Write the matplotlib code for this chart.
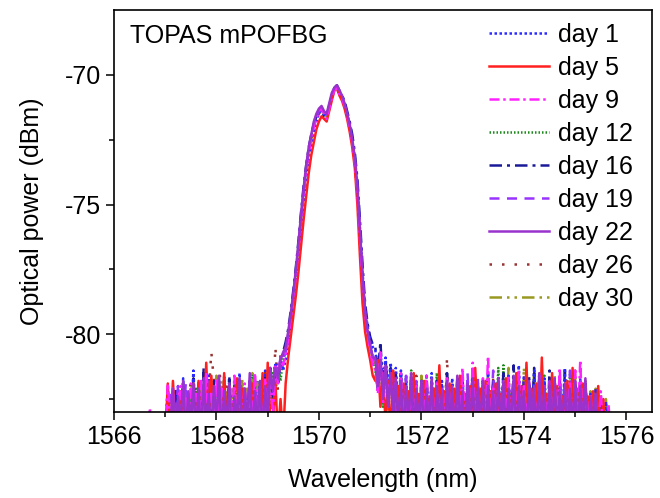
import numpy as np
import matplotlib
matplotlib.use("Agg")
import matplotlib.pyplot as plt

plt.rcParams['font.family'] = ['Liberation Sans', 'DejaVu Sans']
plt.rcParams['axes.unicode_minus'] = False

# common wavelength grid (nm), 0.05 nm sampling from 1566.60 to 1575.70
wavelength = np.round(np.arange(1566.60, 1575.701, 0.05), 2)

day1 = [
 -84,-84,-84,-84,-84,-84,-84,-84,-83.6,-82.1,
 -83.8,-82.4,-84,-82.0,-83.5,-81.7,-83.7,-82.3,-83.4,-81.4,
 -83.6,-81.9,-83.2,-82.2,-84,-81.6,-83.5,-82.1,-83.1,-81.8,
 -83.8,-82.0,-83.3,-82.4,-84,-81.9,-83.6,-81.5,-83.5,-82.1,
 -83.9,-82.3,-83.4,-82.0,-83.7,-81.8,-83.2,-81.4,-83.0,-81.5,
 -82.3,-81.1,-81.9,-80.9,-81.4,
 -81.0,-80.4,-79.6,-78.9,-78.0,-77.0,-75.9,-74.9,-74.0,-73.2,-72.7,-72.2,-71.8,-71.5,-71.3,-71.5,-71.6,-71.2,
 -70.8,-70.5,-70.45,-70.7,-70.8,-71.1,-71.5,-71.9,-72.5,-73.2,-74.2,-75.9,-77.6,-79.0,-79.7,-80.2,-80.5,
 -80.6,-81.6,-80.7,-81.8,-80.9,-82.1,-81.1,-82.4,-81.3,-82.7,
 -81.4,-83.2,-81.6,-83.5,-81.7,-83.4,-81.9,-84,-81.8,-83.6,
 -81.9,-83.8,-81.5,-83.3,-82.0,-84,-81.8,-83.5,-82.1,-83.7,
 -81.7,-83.4,-82.2,-84,-81.6,-83.6,-81.9,-83.2,-81.3,-83.5,
 -82.0,-83.9,-81.8,-83.4,-81.5,-83.7,-82.1,-84,-81.7,-83.3,
 -81.9,-83.8,-81.6,-83.5,-81.8,-83.9,-81.2,-83.4,-81.6,-83.6,
 -82.1,-84,-81.4,-83.3,-81.9,-83.7,-81.7,-83.5,-82.2,-84,
 -81.8,-83.6,-82.0,-83.2,-81.3,-83.8,-81.9,-83.5,-82.1,-84,
 -81.7,-83.7,-82.0,-83.4,-82.3,-84,-82.1,-83.6,-82.4,-84,-82.6,-84,-84]

day5 = [
 -84,-84,-84,-84,-84,-84,-84,-84,-84,-81.9,
 -84,-81.8,-83.5,-84,-82.2,-83.8,-84,-82.4,-83.6,-81.9,
 -83.9,-81.8,-83.7,-84,-81.1,-83.4,-81.6,-84,-83.3,-82.0,
 -84,-81.5,-83.6,-82.0,-84,-82.3,-81.7,-84,-82.1,-83.7,
 -84,-83.1,-81.9,-84,-82.4,-83.6,-81.5,-84,-81.1,-83.2,
 -83.4,-81.8,-84,-82.5,-84,
 -81.9,-80.9,-80.1,-79.3,-78.5,-77.6,-76.6,-75.6,-74.7,-73.8,-73.1,-72.6,-72.1,-71.8,-71.6,-71.7,-71.8,-71.4,
 -71.0,-70.6,-70.5,-70.8,-71.0,-71.3,-71.7,-72.2,-72.8,-73.6,-75.0,-77.0,-78.8,-79.9,-80.5,-81.0,-81.6,
 -81.8,-81.0,-82.8,-81.5,-83.4,-81.8,-84,-81.4,-83.5,-82.0,
 -84,-81.9,-83.6,-82.2,-84,-81.5,-83.4,-82.3,-84,-81.8,
 -83.7,-82.4,-84,-82.1,-83.5,-81.2,-84,-82.2,-83.3,-81.9,
 -84,-82.1,-83.6,-81.6,-84,-82.3,-83.4,-82.0,-84,-81.3,
 -83.5,-82.1,-84,-81.8,-83.8,-82.2,-84,-81.9,-83.5,-82.3,
 -84,-81.7,-83.6,-82.4,-84,-81.5,-83.4,-82.0,-84,-81.1,
 -84,-82.1,-83.5,-81.9,-84,-80.9,-83.7,-82.3,-84,-81.5,
 -83.6,-82.0,-84,-82.4,-83.4,-81.8,-84,-81.3,-83.5,-82.1,
 -84,-81.9,-83.7,-82.4,-84,-82.2,-83.5,-82.0,-84,-82.5,-84,-84,-84]

day9 = [
 -84,-84,-82.85,-84,-84,-84,-84,-83.5,-84,-81.9,
 -83.6,-82.1,-84,-82.7,-82.0,-83.8,-82.4,-84,-81.9,-83.5,
 -82.3,-84,-81.8,-83.4,-81.5,-84,-82.2,-83.6,-81.7,-83.9,
 -82.1,-83.3,-84,-82.0,-83.7,-81.6,-84,-82.4,-83.5,-81.9,
 -84,-82.2,-83.4,-81.5,-83.8,-82.1,-84,-81.7,-83.5,-81.4,
 -83.2,-81.2,-81.9,-80.9,-81.2,
 -80.8,-80.2,-79.4,-78.6,-77.7,-76.7,-75.6,-74.6,-73.7,-73.0,-72.5,-72.0,-71.7,-71.4,-71.3,-71.5,-71.7,-71.3,
 -70.9,-70.6,-70.5,-70.75,-70.9,-71.2,-71.6,-72.0,-72.6,-73.4,-74.5,-76.3,-77.9,-79.2,-80.0,-80.6,-81.2,
 -81.3,-82.3,-80.7,-82.7,-81.4,-82.5,-81.5,-83.4,-81.8,-84,
 -81.5,-83.5,-82.1,-84,-81.8,-83.7,-82.0,-84,-82.3,-83.4,
 -81.6,-84,-82.2,-83.6,-81.9,-84,-82.4,-83.3,-81.7,-84,
 -82.0,-83.7,-81.8,-84,-81.3,-83.5,-82.1,-84,-81.1,-83.6,
 -82.2,-84,-81.7,-83.5,-80.85,-84,-82.0,-83.7,-81.8,-84,
 -82.1,-83.4,-81.6,-84,-82.3,-83.6,-81.4,-84,-82.0,-83.5,
 -81.8,-84,-82.1,-83.7,-81.5,-84,-82.2,-83.3,-81.9,-84,
 -81.7,-83.6,-81.3,-84,-82.1,-83.5,-81.8,-84,-81.4,-83.7,
 -81.0,-84,-82.0,-83.6,-82.3,-84,-82.5,-83.8,-82.2,-84,-84,-82.7,-84]

day12 = [
 -84,-84,-84,-84,-84,-84,-84,-84,-84,-84,
 -83.2,-84,-82.3,-83.6,-84,-82.0,-83.4,-84,-82.4,-83.5,
 -82.1,-84,-83.1,-81.9,-84,-83.5,-82.2,-84,-83.0,-81.8,
 -84,-81.6,-83.4,-81.7,-84,-83.0,-82.1,-84,-81.9,-83.6,
 -82.3,-83.9,-81.5,-83.5,-81.8,-84,-82.0,-83.2,-81.4,-83.4,
 -81.5,-82.4,-81.1,-81.8,-80.9,
 -80.6,-80.0,-79.3,-78.5,-77.6,-76.6,-75.5,-74.5,-73.6,-72.9,-72.4,-71.9,-71.6,-71.4,-71.3,-71.6,-71.7,-71.3,
 -70.9,-70.6,-70.5,-70.7,-70.9,-71.2,-71.6,-72.0,-72.6,-73.3,-74.4,-76.1,-77.8,-79.1,-79.9,-80.4,-80.9,
 -81.4,-82.2,-81.0,-82.8,-81.5,-82.4,-81.7,-83.5,-82.0,-84,
 -81.7,-83.6,-82.2,-84,-81.4,-83.4,-82.1,-84,-81.8,-83.7,
 -82.3,-84,-81.9,-83.5,-81.5,-84,-82.1,-83.4,-81.7,-84,
 -82.2,-83.6,-81.9,-84,-81.6,-83.7,-82.0,-84,-82.3,-83.5,
 -81.8,-84,-82.1,-83.4,-81.5,-84,-81.9,-83.6,-81.3,-84,
 -81.2,-83.7,-82.0,-84,-81.7,-83.5,-82.2,-84,-81.8,-83.6,
 -82.3,-84,-81.9,-83.5,-82.1,-84,-81.6,-83.7,-82.0,-84,
 -81.8,-83.6,-82.2,-84,-81.9,-83.4,-81.5,-84,-82.1,-83.8,
 -81.9,-84,-82.2,-83.5,-82.4,-84,-84,-84,-84,-84,-84,-84,-84]

day16 = [
 -84,-84,-84,-84,-84,-84,-84,-84,-84,-84,
 -84,-83.3,-82.1,-84,-82.6,-81.9,-83.7,-82.3,-84,-81.7,
 -83.5,-82.0,-84,-81.3,-83.6,-82.2,-84,-81.8,-83.4,-82.4,
 -84,-82.1,-83.5,-81.6,-84,-82.3,-83.3,-81.9,-84,-82.2,
 -83.6,-81.7,-84,-82.4,-83.4,-82.0,-84,-81.5,-83.5,-81.3,
 -82.4,-81.4,-81.8,-81.1,-80.7,
 -80.3,-79.8,-79.1,-78.3,-77.4,-76.4,-75.3,-74.3,-73.5,-72.8,-72.3,-71.9,-71.6,-71.4,-71.4,-71.6,-71.6,-71.2,
 -70.8,-70.5,-70.4,-70.6,-70.8,-71.0,-71.4,-71.8,-72.3,-73.0,-74.0,-75.6,-77.3,-78.8,-79.6,-80.1,-80.4,
 -80.5,-81.5,-80.3,-82.1,-81.0,-82.3,-81.3,-82.9,-81.5,-83.4,
 -81.5,-84,-81.9,-83.5,-81.7,-84,-82.1,-83.3,-81.9,-84,
 -81.6,-83.6,-82.2,-84,-81.8,-83.5,-82.0,-84,-81.5,-83.7,
 -82.1,-84,-81.7,-83.4,-82.2,-84,-81.9,-83.6,-81.6,-84,
 -82.0,-83.5,-81.8,-84,-82.1,-83.7,-81.7,-84,-82.0,-83.4,
 -81.5,-84,-81.9,-83.6,-81.2,-84,-82.2,-83.5,-81.8,-84,
 -81.6,-83.6,-81.3,-84,-82.0,-83.4,-82.3,-84,-81.4,-83.5,
 -81.9,-84,-81.7,-83.7,-81.4,-84,-82.0,-83.6,-81.8,-84,
 -82.1,-83.5,-81.9,-84,-82.5,-83.6,-82.2,-84,-82.6,-84,-84,-84,-84]

day19 = [
 -84,-84,-84,-84,-84,-84,-84,-84,-84,-83.4,
 -82.2,-84,-83.1,-82.0,-84,-83.6,-81.9,-84,-83.0,-82.1,
 -84,-81.8,-83.5,-82.3,-84,-81.7,-83.6,-82.0,-84,-82.2,
 -83.4,-81.7,-84,-82.1,-83.5,-82.4,-84,-81.8,-83.6,-82.0,
 -84,-82.3,-83.3,-81.6,-84,-81.9,-83.5,-82.1,-82.4,-81.4,
 -82.1,-81.1,-81.6,-80.9,-81.0,
 -80.7,-80.1,-79.4,-78.6,-77.7,-76.6,-75.5,-74.5,-73.6,-72.9,-72.4,-71.9,-71.6,-71.4,-71.3,-71.5,-71.6,-71.2,
 -70.8,-70.55,-70.5,-70.7,-70.85,-71.15,-71.55,-72.0,-72.6,-73.3,-74.4,-76.1,-77.8,-79.2,-80.0,-80.5,-80.9,
 -81.1,-82.1,-80.8,-82.5,-81.3,-82.3,-81.5,-83.0,-81.8,-83.5,
 -82.0,-84,-81.6,-83.5,-82.2,-84,-81.8,-83.6,-82.1,-84,
 -81.9,-83.4,-82.3,-84,-81.7,-83.7,-82.1,-84,-81.9,-83.5,
 -82.2,-84,-81.8,-83.6,-82.0,-84,-81.5,-83.4,-82.1,-84,
 -81.7,-83.7,-82.2,-84,-81.9,-83.5,-81.4,-84,-82.1,-83.6,
 -81.8,-84,-82.2,-83.4,-82.0,-84,-81.6,-83.6,-82.1,-84,
 -81.9,-83.5,-82.3,-84,-81.7,-83.7,-82.0,-84,-81.8,-83.6,
 -82.1,-84,-81.6,-83.5,-82.0,-84,-81.4,-83.4,-82.1,-84,
 -81.8,-83.6,-82.3,-84,-84,-84,-84,-84,-84,-84,-84,-84,-84]

day22 = [
 -84,-84,-84,-84,-84,-84,-84,-84,-84,-84,
 -83.5,-82.1,-84,-82.4,-83.4,-81.8,-84,-82.2,-83.5,-81.9,
 -83.8,-82.1,-84,-81.7,-83.6,-82.3,-84,-82.0,-83.4,-81.6,
 -84,-82.2,-83.5,-81.9,-84,-82.4,-83.3,-81.7,-84,-82.1,
 -83.5,-81.5,-84,-82.2,-83.6,-81.8,-84,-82.0,-83.3,-81.3,
 -82.2,-81.3,-81.7,-81.0,-80.7,
 -80.5,-79.9,-79.2,-78.4,-77.5,-76.5,-75.4,-74.4,-73.5,-72.8,-72.3,-71.8,-71.5,-71.3,-71.2,-71.4,-71.5,-71.1,
 -70.7,-70.5,-70.4,-70.6,-70.8,-71.1,-71.5,-71.9,-72.5,-73.2,-74.3,-76.0,-77.7,-79.1,-79.9,-80.4,-80.9,
 -80.9,-82.0,-81.0,-82.5,-81.2,-82.8,-81.5,-83.2,-81.7,-83.5,
 -81.8,-84,-82.0,-83.4,-81.5,-84,-82.1,-83.5,-81.8,-84,
 -82.1,-83.6,-81.7,-84,-82.0,-83.4,-82.3,-84,-81.8,-83.7,
 -82.0,-84,-81.6,-83.5,-82.2,-84,-81.9,-83.6,-81.7,-84,
 -82.1,-83.4,-81.8,-84,-82.0,-83.6,-82.2,-84,-81.7,-83.5,
 -81.9,-84,-82.1,-83.7,-81.6,-84,-82.0,-83.4,-82.2,-84,
 -81.8,-83.6,-82.0,-84,-81.5,-83.5,-82.1,-84,-81.9,-83.7,
 -81.7,-84,-82.2,-83.4,-81.9,-84,-82.1,-83.6,-81.8,-84,
 -82.0,-83.5,-81.7,-84,-82.4,-83.6,-82.3,-84,-84,-84,-84,-84,-84]

day26 = [
 -84,-84,-84,-84,-84,-84,-84,-84,-84,-84,
 -84,-83.2,-82.2,-84,-83.4,-82.0,-84,-82.6,-81.8,-83.6,
 -84,-82.1,-83.3,-81.6,-84,-82.2,-80.7,-81.8,-83.4,-81.4,
 -82.0,-83.5,-81.9,-84,-82.3,-83.3,-81.7,-84,-82.1,-83.5,
 -84,-82.4,-83.4,-81.8,-84,-82.1,-83.6,-81.4,-84,-81.2,
 -82.6,-80.5,-82.2,-80.8,-81.1,
 -80.9,-80.3,-79.5,-78.7,-77.8,-76.8,-75.7,-74.7,-73.8,-73.0,-72.5,-72.0,-71.7,-71.5,-71.4,-71.6,-71.7,-71.3,
 -70.9,-70.6,-70.5,-70.8,-70.9,-71.2,-71.6,-72.1,-72.7,-73.5,-74.6,-76.4,-78.0,-79.3,-80.1,-80.6,-81.0,
 -81.2,-82.2,-81.0,-82.7,-81.5,-82.6,-81.6,-83.2,-82.0,-84,
 -81.7,-83.6,-82.0,-84,-82.3,-83.4,-81.6,-84,-82.1,-83.5,
 -81.8,-84,-82.2,-83.6,-81.9,-84,-82.0,-83.3,-80.9,-84,
 -81.9,-83.5,-82.2,-84,-81.7,-83.6,-82.1,-84,-81.8,-83.4,
 -82.3,-84,-81.9,-83.6,-82.1,-84,-81.7,-83.5,-82.2,-84,
 -82.0,-83.4,-81.7,-84,-82.1,-83.7,-81.9,-84,-82.3,-83.5,
 -81.8,-84,-82.1,-83.5,-81.6,-84,-82.2,-83.6,-81.9,-84,
 -82.1,-83.5,-81.8,-84,-82.3,-83.4,-82.0,-84,-81.7,-83.6,
 -82.2,-84,-81.9,-83.5,-82.1,-84,-82.4,-84,-84,-84,-84,-84,-84]

day30 = [
 -84,-84,-84,-84,-84,-84,-84,-84,-84,-84,
 -84,-82.6,-84,-82.3,-83.5,-81.9,-84,-82.7,-82.1,-83.7,
 -82.4,-84,-82.0,-83.4,-81.7,-84,-82.3,-83.5,-81.6,-84,
 -81.8,-83.6,-82.2,-84,-82.0,-83.4,-82.4,-84,-81.7,-83.5,
 -82.1,-84,-81.5,-83.3,-81.9,-84,-81.6,-83.6,-82.2,-81.5,
 -82.0,-81.4,-81.8,-81.1,-80.8,
 -80.6,-80.0,-79.3,-78.5,-77.6,-76.6,-75.5,-74.5,-73.6,-72.9,-72.4,-71.9,-71.6,-71.4,-71.3,-71.5,-71.6,-71.2,
 -70.8,-70.5,-70.5,-70.7,-70.9,-71.2,-71.6,-72.0,-72.6,-73.3,-74.4,-76.2,-77.9,-79.2,-80.0,-80.5,-80.9,
 -81.3,-82.1,-81.0,-82.6,-81.5,-82.9,-81.6,-83.3,-81.9,-84,
 -82.0,-83.6,-81.7,-84,-82.2,-83.4,-81.9,-84,-81.6,-83.6,
 -82.1,-84,-81.8,-83.5,-82.3,-84,-82.0,-83.6,-81.7,-84,
 -81.9,-83.4,-82.2,-84,-81.8,-83.6,-82.0,-84,-81.6,-83.5,
 -82.1,-84,-81.9,-83.7,-81.7,-84,-82.3,-83.5,-82.0,-84,
 -81.8,-83.6,-81.3,-84,-82.0,-83.4,-82.2,-84,-81.3,-83.6,
 -82.0,-84,-81.3,-83.5,-82.3,-84,-81.9,-83.7,-82.1,-84,
 -81.6,-83.5,-82.1,-84,-81.9,-83.6,-82.2,-84,-81.4,-83.5,
 -82.0,-84,-81.8,-83.6,-82.2,-84,-82.1,-83.7,-82.3,-84,-82.5,-84,-84]

labels = ["day 1", "day 5", "day 9", "day 12", "day 16",
          "day 19", "day 22", "day 26", "day 30"]
series = [day1, day5, day9, day12, day16, day19, day22, day26, day30]

colors = ['#2a2aff', '#ff2020', '#ff22ff', '#1a8a1a', '#1a1a99',
          '#9933ff', '#9933cc', '#993333', '#999922']
styles = [(0, (1, 1)), '-', (0, (4, 1.5, 1, 1.5)), (0, (0.6, 0.8)),
          (0, (5, 2, 1.2, 2)), (0, (4, 3)), '-', (0, (1, 4)),
          (0, (5, 2, 1, 2, 1, 2))]
# drawing order (top-most largest)
zorders = [5, 7, 8, 1, 4, 6, 9, 2, 3]

fig = plt.figure(figsize=(6.6, 4.98), dpi=100)
ax = fig.add_axes([114/660, 1-412/498, (652-114)/660, (412-10)/498])

for y, lab, c, ls, z in zip(series, labels, colors, styles, zorders):
    n = min(len(y), len(wavelength))
    ax.plot(wavelength[:n], y[:n], color=c, linestyle=ls, lw=1.8,
            label=lab, zorder=z)

ax.set_xlim(1566, 1576.5)
ax.set_ylim(-83, -67.5)
ax.set_xticks([1566, 1568, 1570, 1572, 1574, 1576])
ax.set_xticks(np.arange(1567, 1576, 2), minor=True)
ax.set_yticks([-80, -75, -70])
ax.set_yticks([-82.5, -77.5, -72.5], minor=True)
ax.tick_params(which='major', direction='out', length=6, width=1.1,
               labelsize=18, pad=3)
ax.tick_params(which='minor', direction='out', length=3.5, width=1.1)
for s in ax.spines.values():
    s.set_linewidth(1.2)
    s.set_zorder(20)

ax.set_xlabel("Wavelength (nm)", fontsize=18, labelpad=14)
ax.set_ylabel("Optical power (dBm)", fontsize=18, labelpad=15)
ax.text(0.03, 0.935, "TOPAS mPOFBG", transform=ax.transAxes,
        fontsize=18, va='center', ha='left')

leg = ax.legend(loc='upper right', bbox_to_anchor=(0.997, 1.012),
                frameon=False, fontsize=18, handlelength=2.4,
                handletextpad=0.36, labelspacing=0.36, borderpad=0.2)
leg.set_zorder(30)

fig.savefig("out.png", dpi=100)
